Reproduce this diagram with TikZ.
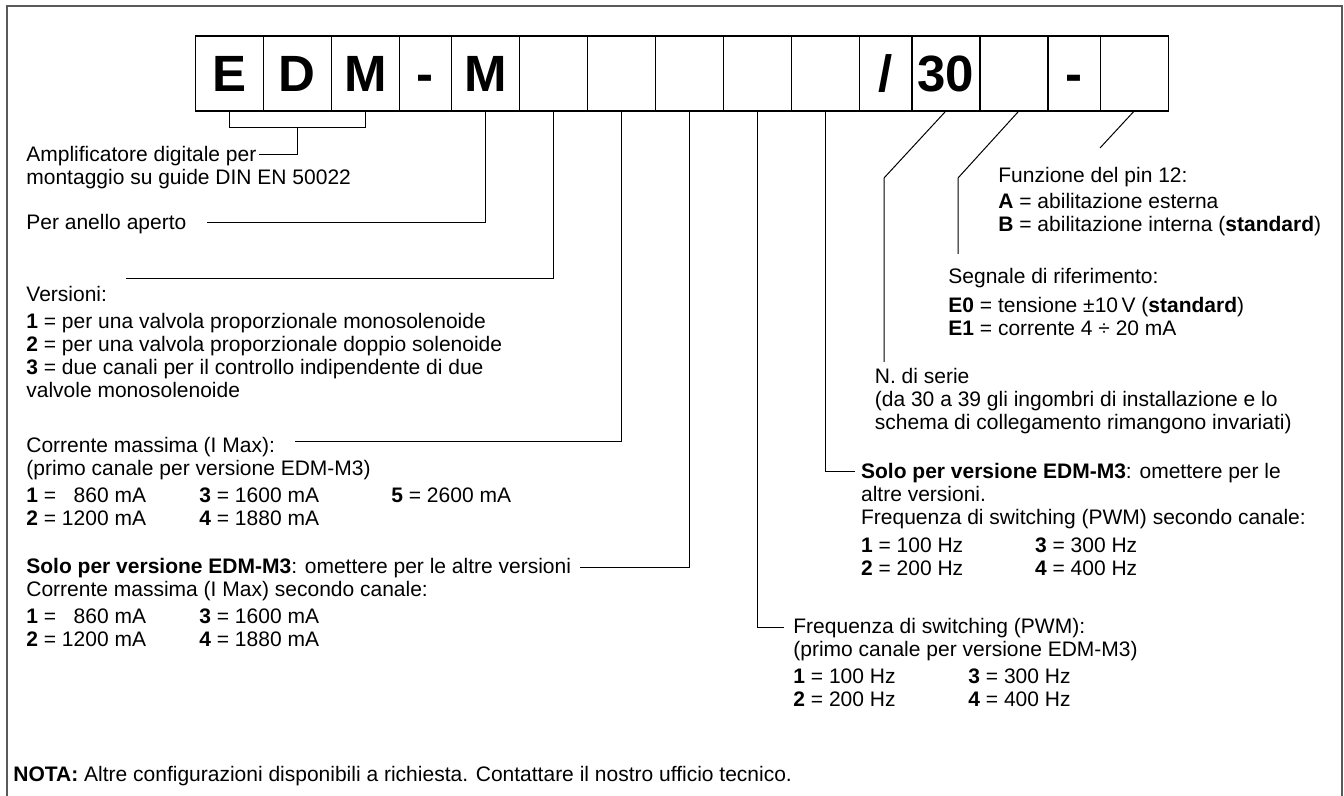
\documentclass[tikz,border=0pt]{standalone}
\usepackage{fontspec}
\setmainfont{Liberation Sans}
\usetikzlibrary{positioning}
\newcommand{\descfont}{\fontsize{10.5pt}{11.5pt}\selectfont}
\newcommand{\cellfont}{\fontsize{25.5pt}{30pt}\selectfont\bfseries}
\newcommand{\spanthree}[1]{\multicolumn{3}{@{}l@{}}{#1}}
\newcommand{\spantwo}[1]{\multicolumn{2}{@{}l@{}}{#1}}
\tikzset{
        cell/.style={draw, line width=0.6pt, minimum width=34pt, minimum height=37.5pt, inner sep=0pt, outer sep=0pt, font=\cellfont, text height=18.3pt, text depth=0pt},
        thincell/.style={cell, minimum width=26.15pt},
        desc/.style={anchor=base west, inner sep=0pt, font=\descfont},
        lead/.style={line width=0.5pt},
        frame/.style={draw=black!65, line width=0.75pt}
          }
\begin{document}
\begin{tikzpicture}[x=0.5pt,y=-0.5pt]
        \useasboundingbox (0,0) rectangle (1344,796);
        \draw[frame] (7,810) -- (7,6) -- (1342,6) -- (1342,810);

        \node[cell] (b1) at (229.3,73.5) {E};
        \node[cell, right=0pt of b1] (b2) {D};
        \node[cell, right=0pt of b2] (b3) {M};
        \node[thincell, right=0pt of b3] (b4) {-};
        \node[cell, right=0pt of b4] (b5) {M};
        \node[cell, right=0pt of b5] (b6) {};
        \node[cell, right=0pt of b6] (b7) {};
        \node[cell, right=0pt of b7] (b8) {};
        \node[cell, right=0pt of b8] (b9) {};
        \node[cell, right=0pt of b9] (b10) {};
        \node[thincell, right=0pt of b10] (b11) {/};
        \node[cell, right=0pt of b11] (b12) {30};
        \node[cell, right=0pt of b12] (b13) {};
        \node[thincell, right=0pt of b13] (b14) {-};
        \node[cell, right=0pt of b14] (b15) {};

        \node[desc] (amp) at (26,161.5) {\begin{tabular}[t]{@{}l@{}}
          Amplificatore digitale per\\
          montaggio su guide DIN EN 50022
        \end{tabular}};
        \node[desc] (per) at (26,229.8) {Per anello aperto};
        \node[desc] (ver) at (26,301.5) {\begin{tabular}[t]{@{}l@{}}
          Versioni:\\[2pt]
          \textbf{1} = per una valvola proporzionale monosolenoide\\
          \textbf{2} = per una valvola proporzionale doppio solenoide\\
          \textbf{3} = due canali per il controllo indipendente di due\\
          valvole monosolenoide
        \end{tabular}};
        \node[desc] (cor) at (26,452) {\begin{tabular}[t]{@{}p{86.5pt}@{}p{96pt}@{}l@{}}
          \spanthree{Corrente massima (I Max):}\\
          \spanthree{(primo canale per versione EDM-M3)}\\[2pt]
          \textbf{1} = \phantom{1}860 mA & \textbf{3} = 1600 mA & \textbf{5} = 2600 mA\\
          \textbf{2} = 1200 mA & \textbf{4} = 1880 mA &
        \end{tabular}};
        \node[desc] (sol) at (26,573) {\begin{tabular}[t]{@{}p{86.5pt}@{}l@{}}
          \spantwo{\textbf{Solo per versione EDM-M3}: omettere per le altre versioni}\\
          \spantwo{Corrente massima (I Max) secondo canale:}\\[2pt]
          \textbf{1} = \phantom{1}860 mA & \textbf{3} = 1600 mA\\
          \textbf{2} = 1200 mA & \textbf{4} = 1880 mA
        \end{tabular}};
        \node[desc] (nota) at (13,781.5) {\textbf{NOTA:} Altre configurazioni disponibili a richiesta. Contattare il nostro ufficio tecnico.};

        \node[desc] (fun) at (998,182.5) {\begin{tabular}[t]{@{}l@{}}
          Funzione del pin 12:\\[1.5pt]
          \textbf{A} = abilitazione esterna\\
          \textbf{B} = abilitazione interna (\textbf{standard})
        \end{tabular}};
        \node[desc] (seg) at (948,283.5) {\begin{tabular}[t]{@{}l@{}}
          Segnale di riferimento:\\[3pt]
          \textbf{E0} = tensione ±10\,V (\textbf{standard})\\
          \textbf{E1} = corrente 4 ÷ 20 mA
        \end{tabular}};
        \node[desc] (ser) at (874.5,383.5) {\begin{tabular}[t]{@{}l@{}}
          N. di serie\\
          (da 30 a 39 gli ingombri di installazione e lo\\
          schema di collegamento rimangono invariati)
        \end{tabular}};
        \node[desc] (solr) at (860.7,478.5) {\begin{tabular}[t]{@{}p{87pt}@{}l@{}}
          \spantwo{\textbf{Solo per versione EDM-M3}: omettere per le}\\
          \spantwo{altre versioni.}\\
          \spantwo{Frequenza di switching (PWM) secondo canale:}\\[2.5pt]
          \textbf{1} = 100 Hz & \textbf{3} = 300 Hz\\
          \textbf{2} = 200 Hz & \textbf{4} = 400 Hz
        \end{tabular}};
        \node[desc] (fre) at (793,633.5) {\begin{tabular}[t]{@{}p{87.5pt}@{}l@{}}
          \spantwo{Frequenza di switching (PWM):}\\
          \spantwo{(primo canale per versione EDM-M3)}\\[2pt]
          \textbf{1} = 100 Hz & \textbf{3} = 300 Hz\\
          \textbf{2} = 200 Hz & \textbf{4} = 400 Hz
        \end{tabular}};

        \coordinate (eAmp) at (259,155);
        \coordinate (ePer) at (207,223);
        \coordinate (eVer) at (126,279);
        \coordinate (eCor) at (295,442);
        \coordinate (eSol) at (580,567);
        \coordinate (eSolr) at (855,472);
        \coordinate (eFre) at (784,627);
        \coordinate (k12) at (884,178);
        \coordinate (k13) at (958,178);
        \coordinate (e15) at (1100,148);

        \draw[lead] (b1.south) -- ++(0,16.7) -| (b3.south);
        \draw[lead] ([yshift=-8.35pt]b2.south) |- (eAmp);
        \draw[lead] (b5.south) |- (ePer);
        \draw[lead] (b6.south) |- (eVer);
        \draw[lead] (b7.south) |- (eCor);
        \draw[lead] (b8.south) |- (eSol);
        \draw[lead] (b9.south) |- (eFre);
        \draw[lead] (b10.south) |- (eSolr);
        \draw[lead, shorten >=2.5pt] (b12.south) -- (k12) -- (k12 |- ser.north);
        \draw[lead, shorten >=6.5pt] ([xshift=2.5pt]b13.south) -- (k13) -- (k13 |- seg.north);
        \draw[lead] (b15.south) -- (e15);
\end{tikzpicture}
\end{document}
